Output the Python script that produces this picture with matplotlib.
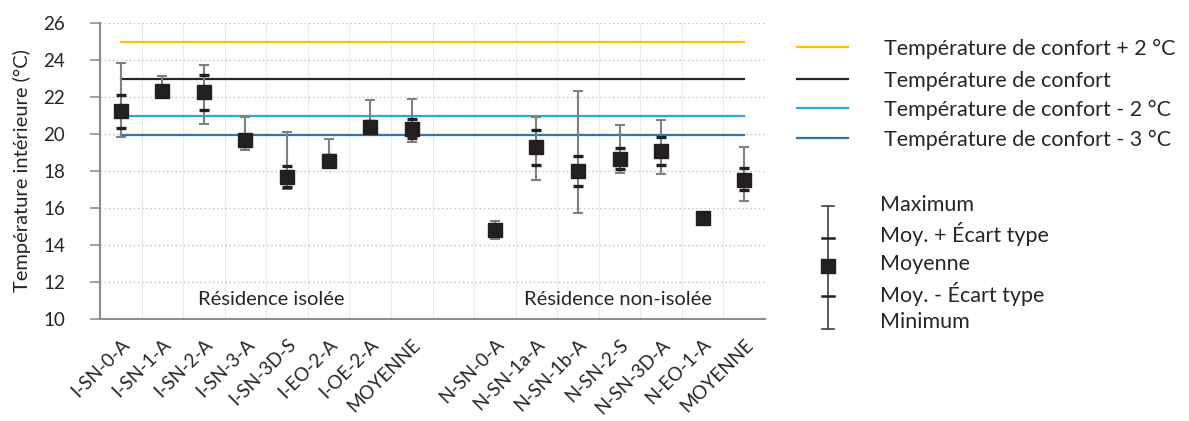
import matplotlib
matplotlib.use("Agg")
import matplotlib.pyplot as plt
import numpy as np

plt.rcParams['font.family'] = ['Lato', 'DejaVu Sans']

categories = ['I-SN-0-A', 'I-SN-1-A', 'I-SN-2-A', 'I-SN-3-A', 'I-SN-3D-S', 'I-EO-2-A',
              'I-OE-2-A', 'MOYENNE', '', 'N-SN-0-A', 'N-SN-1a-A', 'N-SN-1b-A',
              'N-SN-2-S', 'N-SN-3D-A', 'N-EO-1-A', 'MOYENNE']
maximum  = [23.84, 23.12, 23.71, 20.90, 20.11, 19.71, 21.82, 21.89, np.nan,
            15.32, 20.90, 22.34, 20.50, 20.74, 15.80, 19.28]
std_plus = [22.11, 22.50, 23.19, 19.95, 18.27, 18.85, 20.70, 20.83, np.nan,
            15.10, 20.23, 18.83, 19.26, 19.84, 15.70, 18.18]
moyenne  = [21.23, 22.34, 22.25, 19.66, 17.66, 18.56, 20.40, 20.27, np.nan,
            14.83, 19.28, 17.98, 18.67, 19.06, 15.44, 17.53]
std_minus= [20.34, 22.15, 21.32, 19.35, 17.15, 18.30, 20.15, 19.78, np.nan,
            14.60, 18.32, 17.21, 18.11, 18.32, 15.20, 16.97]
minimum  = [19.82, 22.05, 20.52, 19.12, 17.02, 18.25, 20.10, 19.55, np.nan,
            14.32, 17.51, 15.73, 17.91, 17.82, 15.10, 16.40]

confort = 22.96
ref_offsets = [2, 0, -2, -3]
ref_labels = ['Température de confort + 2 °C', 'Température de confort',
              'Température de confort - 2 °C', 'Température de confort - 3 °C']
ref_colors = ['#FFC000', '#262626', '#2AA8E0', '#2E75B6']

group_labels = ['Résidence isolée', 'Résidence non-isolée']
group_pos = [(3.61, 11.04), (11.97, 11.04)]

stat_labels = ['Maximum', 'Moy. + Écart type', 'Moyenne', 'Moy. - Écart type', 'Minimum']

FS = 15.5
W, H = 1189, 421
fig = plt.figure(figsize=(W / 100, H / 100), dpi=100)
ax = fig.add_axes([100 / W, 1 - 319 / H, 665 / W, 296 / H])

x = np.arange(len(categories))
mx = np.array(maximum); mn = np.array(minimum); mo = np.array(moyenne)
sp = np.array(std_plus); sm = np.array(std_minus)

for off, c in zip(ref_offsets, ref_colors):
    ax.plot([x[0], x[-1]], [confort + off] * 2, color=c, lw=1.6, zorder=2)

ok = ~np.isnan(mo)
ax.errorbar(x[ok], mo[ok], yerr=[mo[ok] - mn[ok], mx[ok] - mo[ok]], fmt='none',
            ecolor='#808080', elinewidth=1.5, capsize=3.4, capthick=1.5, zorder=3)
ax.plot(x[ok], sp[ok], ls='none', marker='_', ms=7, mew=2.4, color='#231F20', zorder=4)
ax.plot(x[ok], sm[ok], ls='none', marker='_', ms=7, mew=2.4, color='#231F20', zorder=4)
ax.plot(x[ok], mo[ok], ls='none', marker='s', ms=10.5, color='#231F20', zorder=5)

for t, (gx, gy) in zip(group_labels, group_pos):
    ax.text(gx, gy, t, ha='center', va='center', fontsize=14.5, color='#262626')

ax.set_xlim(-0.5, len(categories) - 0.5)
ax.set_ylim(10, 26)
ax.set_yticks(np.arange(10, 27, 2))
ax.set_xticks(x)
ax.set_xticklabels(categories, rotation=45, ha='right', rotation_mode='anchor',
                   fontsize=13.5, color='#262626')
ax.set_xticks(np.arange(-0.5, len(categories)), minor=True)
ax.tick_params(axis='x', which='both', length=0, pad=12)
ax.tick_params(axis='y', length=7, width=1.2, color='#8C8C8C', labelsize=13.5,
               labelcolor='#262626', pad=18)
ax.grid(axis='y', which='major', color='#BFBFBF', ls=(0, (1, 2)), lw=1.0)
ax.grid(axis='x', which='minor', color='#EBEBEB', ls='-', lw=0.8)
ax.set_axisbelow(True)
for s in ['top', 'right']:
    ax.spines[s].set_visible(False)
for s in ['left', 'bottom']:
    ax.spines[s].set_color('#8C8C8C')
    ax.spines[s].set_linewidth(1.5)
ax.set_ylabel('Température intérieure (°C)', fontsize=14.5, color='#262626', labelpad=9)

lg = fig.add_axes([0, 0, 1, 1], facecolor='none')
lg.set_xlim(0, W); lg.set_ylim(H, 0); lg.axis('off')
rows = [46.7, 79, 108, 138]
for yy, c, t in zip(rows, ref_colors, ref_labels):
    lg.plot([797, 848], [yy, yy], color=c, lw=1.6)
    lg.text(884, yy, t, va='center_baseline', ha='left', fontsize=FS, color='#262626')

srows = [203, 232, 262, 292, 320]
gx = 828
lg.plot([gx, gx], [206, 329], color='#404040', lw=1.2)
for yy in [206, 329]:
    lg.plot([gx - 6, gx + 6], [yy, yy], color='#404040', lw=1.2)
for yy in [238, 296]:
    lg.plot([gx - 6, gx + 6], [yy, yy], color='#231F20', lw=1.8)
lg.plot([gx], [266], marker='s', ms=10.5, color='#231F20')
for yy, t in zip(srows, stat_labels):
    lg.text(880, yy, t, va='center_baseline', ha='left', fontsize=FS, color='#262626')

fig.savefig('out.png', dpi=100)
